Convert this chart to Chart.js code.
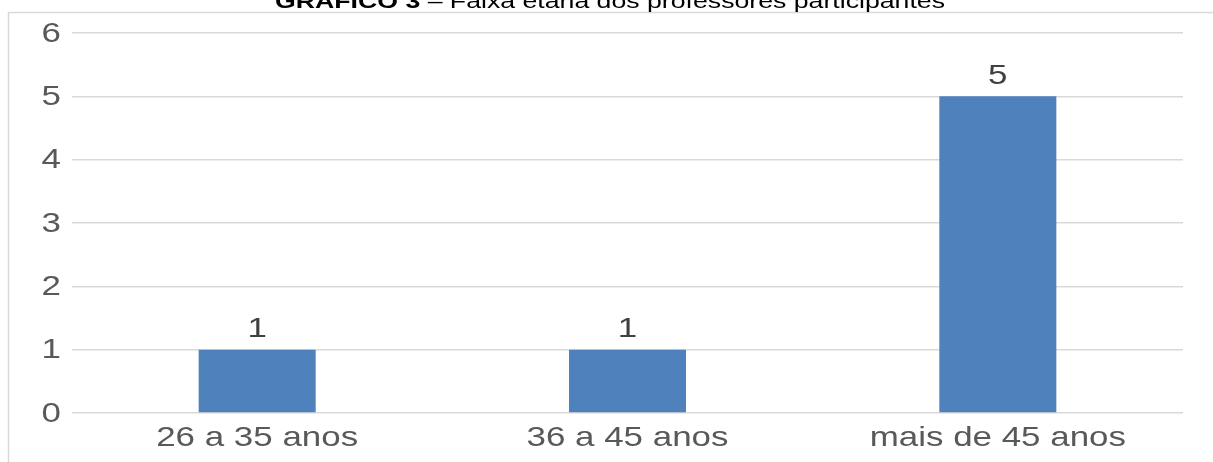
<!DOCTYPE html>
<html>
<head>
<meta charset="utf-8">
<script src="https://cdn.jsdelivr.net/npm/chart.js@4.4.1/dist/chart.umd.min.js"></script>
<style>
	html, body { margin: 0; padding: 0; background: #fff; }
	#wrap { position: relative; width: 1213px; height: 462px; }
</style>
</head>
<body>
<div id="wrap"><canvas id="faixaChart" width="1213" height="462"></canvas></div>
<script>
const categories = ['26 a 35 anos', '36 a 45 anos', 'mais de 45 anos'];
const professores = [1, 1, 5];
const yTicks = [0, 1, 2, 3, 4, 5, 6];
const titleBold = 'GRÁFICO 3';
const titleRest = ' – Faixa etária dos professores participantes';

const FONT = '"Liberation Sans", Arial, sans-serif';
const WIDEN = 1.27; // text in this chart is set wide

function wideText(ctx, text, x, y, align) {
	ctx.save();
	ctx.translate(x, y);
	ctx.scale(WIDEN, 1);
	ctx.textAlign = align;
	ctx.fillText(text, 0, 0);
	ctx.restore();
}

// frame lines and the (partly cut) title above the chart
const framePlugin = {
	id: 'frame',
	beforeDraw(chart) {
		const ctx = chart.ctx;
		ctx.save();
		ctx.fillStyle = '#ffffff';
		ctx.fillRect(0, 0, chart.width, chart.height);
		ctx.strokeStyle = '#d9d9d9';
		ctx.lineWidth = 1.5;
		ctx.beginPath();
		ctx.moveTo(8.5, chart.height);
		ctx.lineTo(8.5, 12.5);
		ctx.lineTo(chart.width, 12.5);
		ctx.stroke();

		ctx.font = 'bold 21px ' + FONT;
		const wBold = ctx.measureText(titleBold).width * WIDEN;
		ctx.font = '21px ' + FONT;
		const wRest = ctx.measureText(titleRest).width * WIDEN;
		const x = 610 - (wBold + wRest) / 2;
		ctx.fillStyle = '#000000';
		ctx.textBaseline = 'alphabetic';
		ctx.font = 'bold 21px ' + FONT;
		wideText(ctx, titleBold, x, 7.5, 'left');
		ctx.font = '21px ' + FONT;
		wideText(ctx, titleRest, x + wBold, 7.5, 'left');
		ctx.restore();
	},
};

// axis labels and value labels, positioned from the chart's scales
const textPlugin = {
	id: 'chartText',
	afterDatasetsDraw(chart) {
		const ctx = chart.ctx;
		const xs = chart.scales.x;
		const ys = chart.scales.y;
		ctx.save();
		ctx.font = '27.5px ' + FONT;
		ctx.textBaseline = 'middle';

		ctx.fillStyle = '#595959';
		yTicks.forEach((v) => {
			wideText(ctx, String(v), ys.right - 11, ys.getPixelForValue(v) + 1, 'right');
		});
		categories.forEach((c, i) => {
			wideText(ctx, c, xs.getPixelForValue(i), chart.chartArea.bottom + 25, 'center');
		});

		ctx.fillStyle = '#404040';
		chart.getDatasetMeta(0).data.forEach((bar, i) => {
			wideText(ctx, String(professores[i]), bar.x, bar.y - 20, 'center');
		});
		ctx.restore();
	},
};

new Chart(document.getElementById('faixaChart'), {
	type: 'bar',
	data: {
		labels: categories,
		datasets: [
			{
				label: 'Professores',
				data: professores,
				backgroundColor: '#4f81bd',
				borderWidth: 0,
				categoryPercentage: 1,
				barPercentage: 0.316,
			},
		],
	},
	options: {
		responsive: false,
		animation: false,
		devicePixelRatio: 1,
		layout: {
			padding: { left: 0, right: 30, top: 33, bottom: 0 },
		},
		plugins: {
			legend: { display: false },
			title: { display: false },
			tooltip: { enabled: false },
		},
		scales: {
			x: {
				grid: { display: false, drawTicks: false },
				border: { display: false },
				ticks: { display: false },
				afterFit(scale) {
					scale.height = 49;
				},
			},
			y: {
				min: 0,
				max: 6,
				afterBuildTicks(scale) {
					scale.ticks = yTicks.map((v) => ({ value: v }));
				},
				grid: {
					color: '#d9d9d9',
					lineWidth: 1.5,
					drawTicks: false,
				},
				border: { display: false },
				ticks: { display: false },
				afterFit(scale) {
					scale.width = 72;
				},
			},
		},
	},
	plugins: [framePlugin, textPlugin],
});
</script>
</body>
</html>
